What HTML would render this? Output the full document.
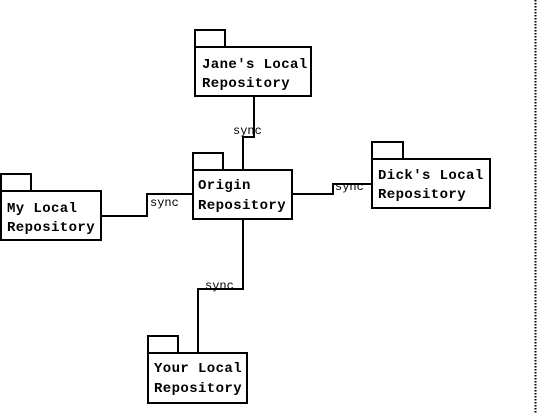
<!DOCTYPE html>
<html><head><meta charset="utf-8"><style>
html,body{margin:0;padding:0;background:#fff;}
svg{display:block;}
.t{font-family:"Liberation Mono","Courier New",monospace;font-size:14px;letter-spacing:0.4px;font-weight:bold;fill:#000;}
.s{font-family:"Liberation Mono","Courier New",monospace;font-size:12px;fill:#000;}
</style></head><body>
<svg width="538" height="413" viewBox="0 0 538 413" xmlns="http://www.w3.org/2000/svg">
<g fill="#fff" stroke="#000" stroke-width="2">
<rect x="195" y="30" width="30" height="17"/>
<rect x="195" y="47" width="116" height="49"/>
<rect x="193" y="153" width="30" height="17"/>
<rect x="193" y="170" width="99" height="49"/>
<rect x="1" y="174" width="30" height="17"/>
<rect x="1" y="191" width="100" height="49"/>
<rect x="372" y="142" width="31" height="17"/>
<rect x="372" y="159" width="118" height="49"/>
<rect x="148" y="336" width="30" height="17"/>
<rect x="148" y="353" width="99" height="50"/>
</g>
<g fill="none" stroke="#000" stroke-width="2">
<polyline points="254,96 254,137 243,137 243,170"/>
<polyline points="101,216 147,216 147,194 193,194"/>
<polyline points="292,194 333,194 333,184 372,184"/>
<polyline points="243,219 243,289 198,289 198,353"/>
</g>
<line x1="535.5" y1="0" x2="535.5" y2="413" stroke="#000" stroke-width="2" stroke-dasharray="1.5,1.5"/>
<text class="t" x="202" y="68">Jane's Local</text>
<text class="t" x="202" y="87">Repository</text>
<text class="t" x="198" y="189">Origin</text>
<text class="t" x="198" y="209">Repository</text>
<text class="t" x="7" y="212">My Local</text>
<text class="t" x="7" y="231">Repository</text>
<text class="t" x="378" y="179">Dick's Local</text>
<text class="t" x="378" y="198">Repository</text>
<text class="t" x="154" y="372">Your Local</text>
<text class="t" x="154" y="392">Repository</text>
<text class="s" x="233" y="134">sync</text>
<text class="s" x="150" y="206">sync</text>
<text class="s" x="335" y="190">sync</text>
<text class="s" x="205" y="289">sync</text>
</svg>
</body></html>
